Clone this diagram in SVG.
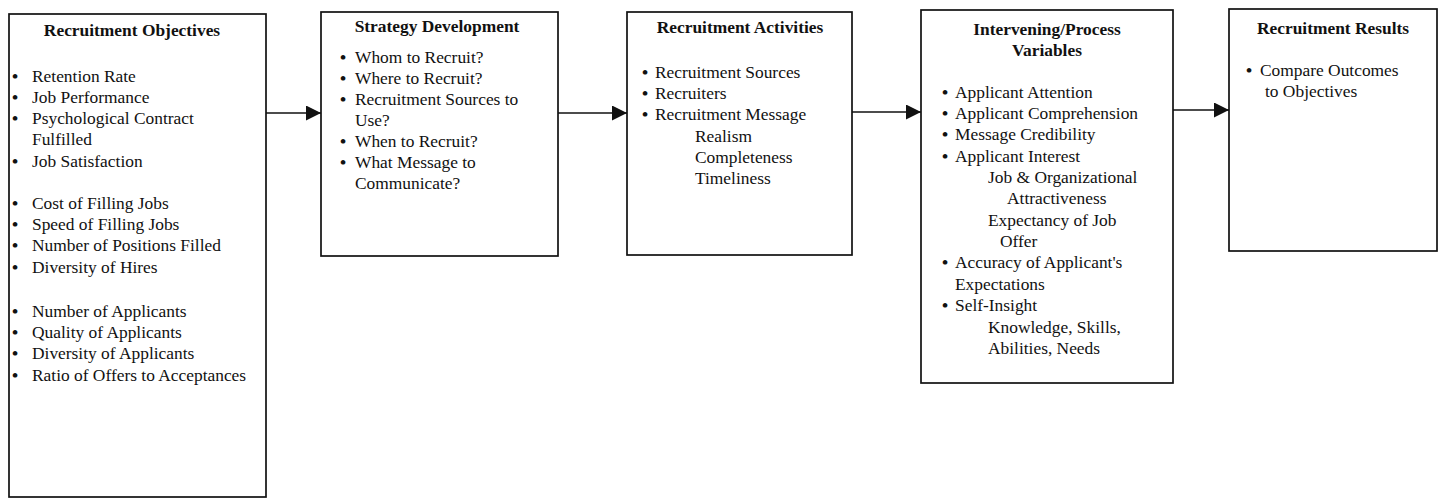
<svg xmlns="http://www.w3.org/2000/svg" width="1441" height="499" viewBox="0 0 1441 499">
<style>
.box{fill:#fff;stroke:#111;stroke-width:1.7}
text{font-family:"Liberation Serif","Times New Roman",serif;font-size:17.4px;fill:#111}
.t{font-weight:bold;text-anchor:middle}
.b{text-anchor:middle;font-weight:bold}
.c{stroke:#111;stroke-width:1.6;fill:none}
</style>
<defs>
<marker id="ah" viewBox="0 0 15 15" refX="15" refY="7.5" markerWidth="15" markerHeight="15" markerUnits="userSpaceOnUse" orient="auto">
<path d="M0,0 L15,7.5 L0,15 Z" fill="#111"/>
</marker>
</defs>
<rect width="1441" height="499" fill="#fff"/>
<g id="connectors">
<line class="c" x1="266" y1="113" x2="321" y2="113" marker-end="url(#ah)"/>
<line class="c" x1="558" y1="113" x2="627" y2="113" marker-end="url(#ah)"/>
<line class="c" x1="852" y1="112" x2="921" y2="112" marker-end="url(#ah)"/>
<line class="c" x1="1173" y1="110" x2="1229" y2="110" marker-end="url(#ah)"/>
</g>
<g id="objectives">
<rect class="box" x="9" y="14" width="257" height="483"/>
<text class="t" x="132" y="36">Recruitment Objectives</text>
<text class="b" x="15" y="82">•</text><text x="32" y="82">Retention Rate</text>
<text class="b" x="15" y="103">•</text><text x="32" y="103">Job Performance</text>
<text class="b" x="15" y="124">•</text><text x="32" y="124">Psychological Contract</text>
<text x="32" y="145">Fulfilled</text>
<text class="b" x="15" y="167">•</text><text x="32" y="167">Job Satisfaction</text>
<text class="b" x="15" y="209">•</text><text x="32" y="209">Cost of Filling Jobs</text>
<text class="b" x="15" y="230">•</text><text x="32" y="230">Speed of Filling Jobs</text>
<text class="b" x="15" y="251">•</text><text x="32" y="251">Number of Positions Filled</text>
<text class="b" x="15" y="273">•</text><text x="32" y="273">Diversity of Hires</text>
<text class="b" x="15" y="317">•</text><text x="32" y="317">Number of Applicants</text>
<text class="b" x="15" y="338">•</text><text x="32" y="338">Quality of Applicants</text>
<text class="b" x="15" y="359">•</text><text x="32" y="359">Diversity of Applicants</text>
<text class="b" x="15" y="381">•</text><text x="32" y="381">Ratio of Offers to Acceptances</text>
</g>
<g id="strategy">
<rect class="box" x="321" y="12" width="237" height="244"/>
<text class="t" x="437" y="32">Strategy Development</text>
<text class="b" x="343" y="63">•</text><text x="355" y="63">Whom to Recruit?</text>
<text class="b" x="343" y="84">•</text><text x="355" y="84">Where to Recruit?</text>
<text class="b" x="343" y="105">•</text><text x="355" y="105">Recruitment Sources to</text>
<text x="355" y="126">Use?</text>
<text class="b" x="343" y="147">•</text><text x="355" y="147">When to Recruit?</text>
<text class="b" x="343" y="168">•</text><text x="355" y="168">What Message to</text>
<text x="355" y="189">Communicate?</text>
</g>
<g id="activities">
<rect class="box" x="627" y="12" width="225" height="243"/>
<text class="t" x="740" y="33">Recruitment Activities</text>
<text class="b" x="645" y="78">•</text><text x="655" y="78">Recruitment Sources</text>
<text class="b" x="645" y="99">•</text><text x="655" y="99">Recruiters</text>
<text class="b" x="645" y="120">•</text><text x="655" y="120">Recruitment Message</text>
<text x="695" y="142">Realism</text>
<text x="695" y="163">Completeness</text>
<text x="695" y="184">Timeliness</text>
</g>
<g id="intervening">
<rect class="box" x="921" y="10" width="252" height="373"/>
<text class="t" x="1047" y="35">Intervening/Process</text>
<text class="t" x="1047" y="56">Variables</text>
<text class="b" x="945" y="98">•</text><text x="955" y="98">Applicant Attention</text>
<text class="b" x="945" y="119">•</text><text x="955" y="119">Applicant Comprehension</text>
<text class="b" x="945" y="140">•</text><text x="955" y="140">Message Credibility</text>
<text class="b" x="945" y="162">•</text><text x="955" y="162">Applicant Interest</text>
<text x="988" y="183">Job &amp; Organizational</text>
<text x="1007" y="204">Attractiveness</text>
<text x="988" y="226">Expectancy of Job</text>
<text x="1000" y="247">Offer</text>
<text class="b" x="945" y="268">•</text><text x="955" y="268">Accuracy of Applicant's</text>
<text x="955" y="290">Expectations</text>
<text class="b" x="945" y="311">•</text><text x="955" y="311">Self-Insight</text>
<text x="988" y="333">Knowledge, Skills,</text>
<text x="988" y="354">Abilities, Needs</text>
</g>
<g id="results">
<rect class="box" x="1229" y="9" width="208" height="242"/>
<text class="t" x="1333" y="34">Recruitment Results</text>
<text class="b" x="1249" y="76">•</text><text x="1260" y="76">Compare Outcomes</text>
<text x="1265" y="97">to Objectives</text>
</g>
</svg>
